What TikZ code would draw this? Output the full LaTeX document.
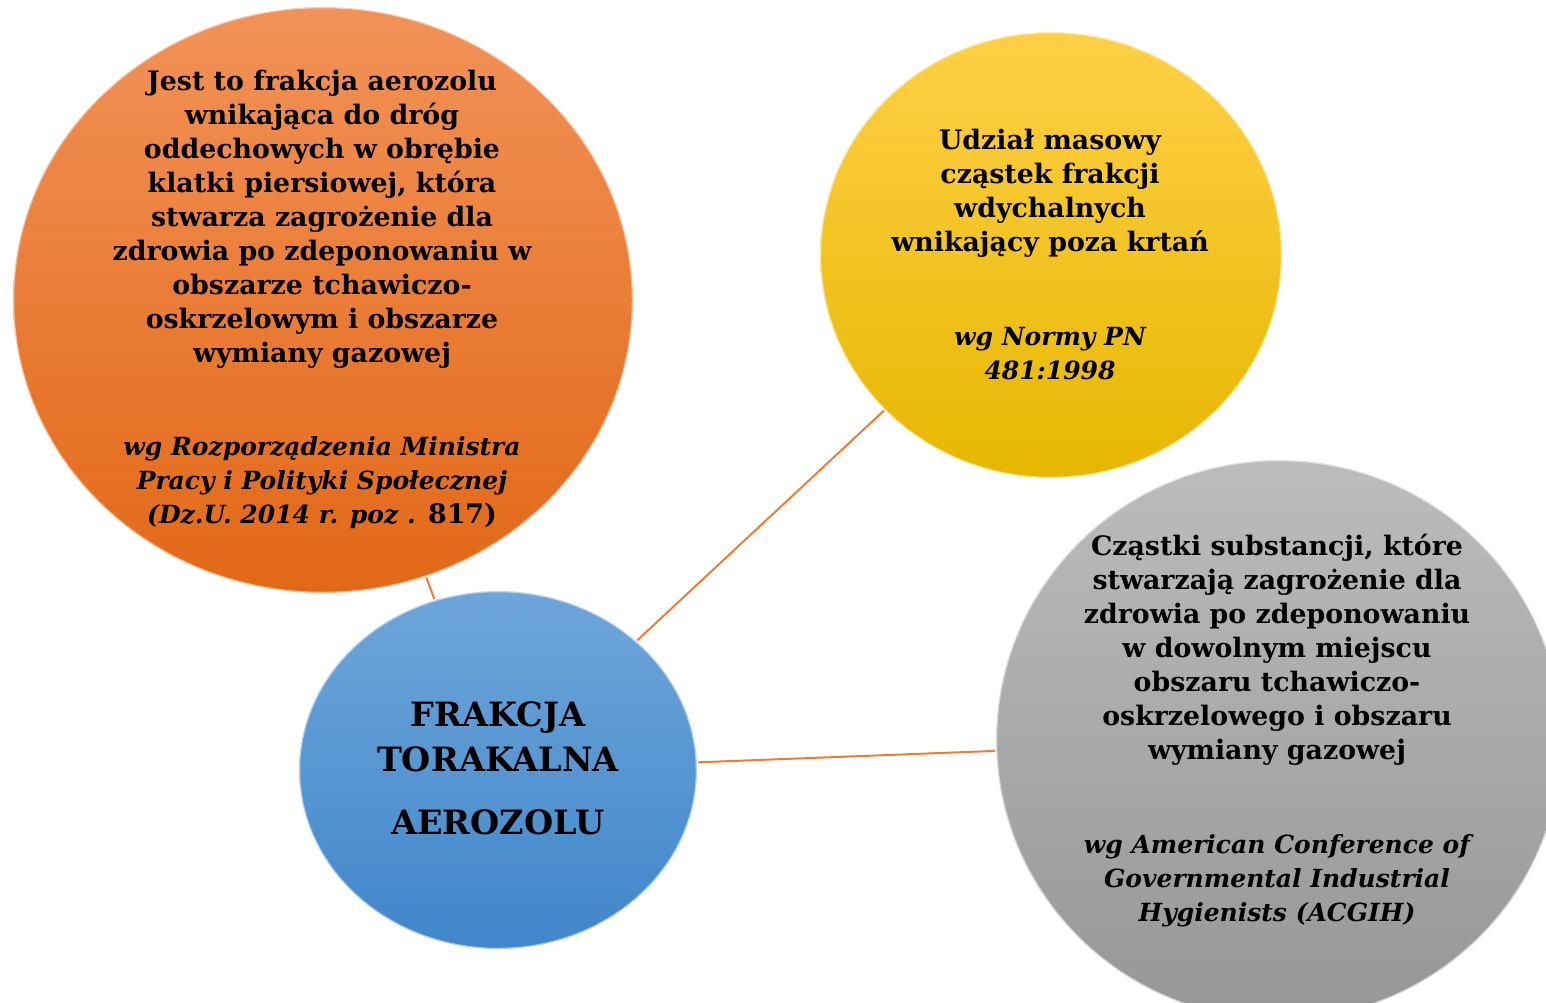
\documentclass[tikz,border=0pt]{standalone}
\usepackage{fontspec}
\setmainfont{DejaVu Serif}
\usetikzlibrary{shapes.geometric}
\definecolor{orTop}{RGB}{242,146,88}
\definecolor{orMid}{RGB}{240,122,40}
\definecolor{orBot}{RGB}{226,104,22}
\definecolor{yeTop}{RGB}{255,208,70}
\definecolor{yeMid}{RGB}{253,196,8}
\definecolor{yeBot}{RGB}{230,183,0}
\definecolor{blTop}{RGB}{110,166,218}
\definecolor{blMid}{RGB}{86,154,216}
\definecolor{blBot}{RGB}{64,134,202}
\definecolor{grTop}{RGB}{188,188,188}
\definecolor{grMid}{RGB}{168,168,168}
\definecolor{grBot}{RGB}{150,150,150}
\definecolor{linkorange}{RGB}{237,125,49}
\newcommand{\srcline}[1]{{\itshape\fontsize{25}{34}\selectfont #1}}
\tikzset{
  bubble/.style={ellipse, inner sep=0pt, draw=white, draw opacity=0.55, line width=2.5pt},
  link/.style={draw=linkorange, line width=2pt},
  txt/.style={align=center, inner sep=0pt, font=\bfseries\fontsize{26.8}{34}\selectfont},
  bigtxt/.style={align=center, inner sep=0pt, font=\bfseries\fontsize{33.5}{45}\selectfont}
}

\begin{document}
\begin{tikzpicture}[x=1pt,y=-1pt]
\useasboundingbox (0,0) rectangle (1546,1003);
\clip (0,0) rectangle (1546,1003);
% circles
\node[bubble, minimum width=620pt, minimum height=586pt,
  top color=orTop, middle color=orMid, bottom color=orBot] (def) at (323,300) {};
\node[bubble, minimum width=462pt, minimum height=446pt,
  top color=yeTop, middle color=yeMid, bottom color=yeBot] (norm) at (1051,255) {};
\node[bubble, minimum width=398pt, minimum height=358pt,
  top color=blTop, middle color=blMid, bottom color=blBot] (frac) at (498,770) {};
\node[bubble, minimum width=566pt, minimum height=560pt,
  top color=grTop, middle color=grMid, bottom color=grBot] (acgih) at (1279,740) {};
% links
\draw[link] (frac) -- (def);
\draw[link] (frac) -- (norm);
\draw[link] (frac) -- (acgih);
% texts
\node[txt] (deftxt) at (322,299) {Jest to frakcja aerozolu\\
wnikająca do dróg\\
oddechowych w obrębie\\
klatki piersiowej, która\\
stwarza zagrożenie dla\\
zdrowia po zdeponowaniu w\\
obszarze tchawiczo-\\
oskrzelowym i obszarze\\
wymiany gazowej\\[59pt]
\srcline{wg Rozporządzenia Ministra}\\
\srcline{Pracy i Polityki Społecznej}\\
\srcline{(Dz.U. 2014 r. poz .} 817)};
\node[txt] (normtxt) at (1050,254) {Udział masowy\\
cząstek frakcji\\
wdychalnych\\
wnikający poza krtań\\[60pt]
\srcline{wg Normy PN}\\
\srcline{481:1998}};
\node[bigtxt] (fractxt) at (498,768) {FRAKCJA\\TORAKALNA\\[18pt]AEROZOLU};
\node[txt] (acgihtxt) at (1277,731) {Cząstki substancji, które\\
stwarzają zagrożenie dla\\
zdrowia po zdeponowaniu\\
w dowolnym miejscu\\
obszaru tchawiczo-\\
oskrzelowego i obszaru\\
wymiany gazowej\\[60pt]
\srcline{wg American Conference of}\\
\srcline{Governmental Industrial}\\
\srcline{Hygienists (ACGIH)}};
\end{tikzpicture}
\end{document}
